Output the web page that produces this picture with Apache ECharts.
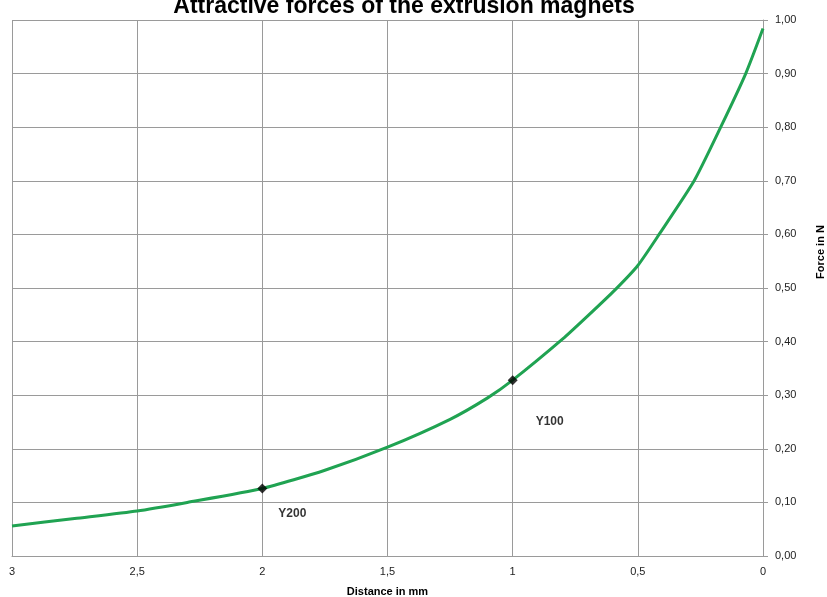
<!DOCTYPE html>
<html>
<head>
<meta charset="utf-8">
<script src="https://cdn.jsdelivr.net/npm/echarts@6/dist/echarts.min.js"></script>
<style>html,body{margin:0;padding:0;background:#fff;overflow:hidden;}#c{width:827px;height:597px;}</style>
</head>
<body>
<div id="c"></div>
<script>
// Data
var distance = [3, 2.75, 2.5, 2.3, 2, 1.75, 1.5, 1.25, 1.1, 1, 0.8, 0.7, 0.59, 0.5, 0.415, 0.275, 0.169, 0.069, 0];
var force    = [0.056, 0.070, 0.084, 0.100, 0.126, 0.160, 0.203, 0.255, 0.295, 0.328, 0.405, 0.448, 0.497, 0.542, 0.60, 0.70, 0.80, 0.90, 0.984];
var markerNames = ['Y200', 'Y100'];
var markerDistance = [2, 1];
var markerForce = [0.126, 0.328];
var titleText = 'Attractive forces of the extrusion magnets';
var xName = 'Distance in mm';
var yName = 'Force in N';

var lineData = distance.map(function (d, i) { return [d, force[i]]; });
var labelOffsets = [[30, 25], [37, 41]];
var markerData = markerNames.map(function (n, i) {
  return { name: n, value: [markerDistance[i], markerForce[i]], label: { offset: labelOffsets[i] } };
});

var chart = echarts.init(document.getElementById('c'));
chart.setOption({
  backgroundColor: '#ffffff',
  animation: false,
  title: {
    text: titleText,
    left: 399, top: -10,
    textAlign: 'center',
    textStyle: { fontFamily: 'Liberation Sans', fontWeight: 'bold', fontSize: 23, color: '#000' }
  },
  grid: { left: 12, right: 64, top: 20, bottom: 41, containLabel: false, outerBoundsMode: 'none' },
  xAxis: {
    type: 'value', min: 0, max: 3, interval: 0.5, inverse: true,
    name: xName, nameLocation: 'middle', nameGap: 30,
    nameTextStyle: { fontFamily: 'Liberation Sans', fontWeight: 'bold', fontSize: 11, color: '#000' },
    axisLine: { show: true, onZero: false, lineStyle: { color: '#9a9a9a', width: 1 } },
    axisTick: { show: false },
    splitLine: { show: true, lineStyle: { color: '#9a9a9a', width: 1 } },
    axisLabel: {
      margin: 10, fontFamily: 'Liberation Sans', fontSize: 11, color: '#222',
      formatter: function (v) { return String(v).replace('.', ','); }
    }
  },
  yAxis: {
    type: 'value', min: 0, max: 1, interval: 0.1, position: 'right',
    axisLine: { show: true, lineStyle: { color: '#9a9a9a', width: 1 } },
    axisTick: { show: true, inside: false, length: 5, lineStyle: { color: '#9a9a9a' } },
    splitLine: { show: true, lineStyle: { color: '#9a9a9a', width: 1 } },
    axisLabel: {
      margin: 12, fontFamily: 'Liberation Sans', fontSize: 11, color: '#222',
      formatter: function (v) { return v.toFixed(2).replace('.', ','); }
    }
  },
  graphic: [{
    type: 'text', x: 821, y: 252, rotation: Math.PI / 2,
    style: { text: yName, fontFamily: 'Liberation Sans', fontWeight: 'bold', fontSize: 11, fill: '#000', align: 'center', verticalAlign: 'middle' }
  }],
  series: [{
    type: 'line', data: lineData, smooth: 0.2, showSymbol: false,
    lineStyle: { color: '#20a352', width: 3 }, z: 2
  }, {
    type: 'scatter', data: markerData, symbol: 'diamond', symbolSize: 10,
    itemStyle: { color: '#000' }, z: 3,
    label: {
      show: true, position: 'inside', formatter: '{b}',
      fontFamily: 'Liberation Sans', fontWeight: 'bold', fontSize: 12, color: '#000'
    }
  }]
});
</script>
</body>
</html>
